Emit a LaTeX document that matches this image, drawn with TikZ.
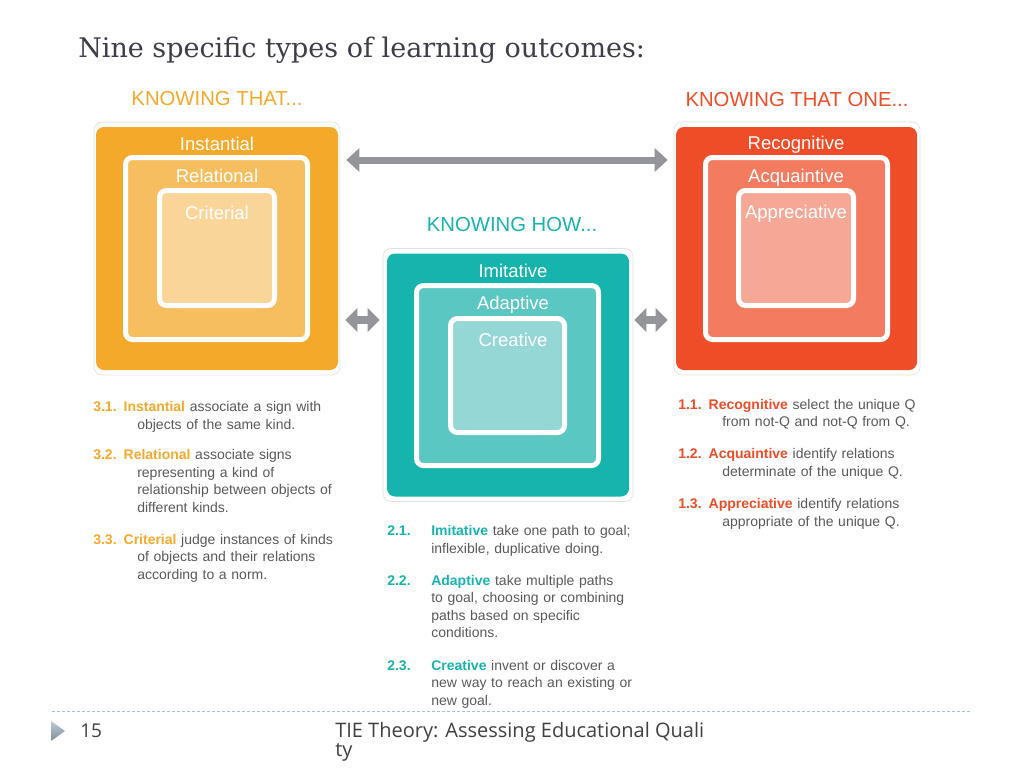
\documentclass[tikz,border=0pt]{standalone}
\usepackage{fontspec}
\setmainfont{Liberation Sans}
\newfontfamily\titlefont{DejaVu Serif}
\newfontfamily\footfont{Open Sans}
\usetikzlibrary{positioning,arrows.meta}

\definecolor{thatA}{HTML}{F4A92A}
\definecolor{thatB}{HTML}{F6BE5E}
\definecolor{thatC}{HTML}{FAD599}
\definecolor{howA}{HTML}{17B4AE}
\definecolor{howB}{HTML}{5BC7C3}
\definecolor{howC}{HTML}{94D7D4}
\definecolor{oneA}{HTML}{EE4D27}
\definecolor{oneB}{HTML}{F27B60}
\definecolor{oneC}{HTML}{F5A896}
\definecolor{arrowgray}{HTML}{939598}
\definecolor{bodygray}{HTML}{58595B}
\definecolor{titlegray}{HTML}{3E3E48}
\definecolor{footgray}{HTML}{404040}
\definecolor{footline}{HTML}{A9BED1}

\newcommand{\outcome}[4]{{\color{#1}\bfseries #2#3} #4}
\newcommand{\nl}{\newline\hspace*{44pt}}

\begin{document}
\begin{tikzpicture}[x=1pt,y=-1pt,inner sep=0pt,semithick]
    \tikzstyle{frame}=[draw=black!12,fill=white,rounded corners=8pt,minimum width=246pt,minimum height=253pt,line width=0.6pt]
    \tikzstyle{outer}=[rounded corners=8pt,minimum width=242pt,minimum height=243pt]
    \tikzstyle{ring}=[draw=white,line width=5pt,rounded corners=7pt,minimum size=182pt]
    \tikzstyle{core}=[ring,minimum size=115pt]
    \tikzstyle{boxname}=[text=white,font=\fontsize{18.5}{22}\selectfont,anchor=base]
    \tikzstyle{heading}=[font=\fontsize{20.3}{24}\selectfont,anchor=south]
    \tikzstyle{item}=[text width=260pt,anchor=base west,text=bodygray,font=\fontsize{14}{17.5}\selectfont]
    \tikzstyle{bigarrow}=[draw=arrowgray,line width=7pt,{Triangle[length=13pt,width=23pt]}-{Triangle[length=13pt,width=23pt]}]
    \tikzstyle{smallarrow}=[draw=arrowgray,line width=8pt,{Triangle[length=12pt,width=23pt]}-{Triangle[length=12pt,width=23pt]}]

    \useasboundingbox (0,0) rectangle (1024,768);

    \node[anchor=base west,text=titlegray,font=\titlefont\fontsize{27}{32}\selectfont] (title) at (78,57) {Nine specific types of learning outcomes:};

    % knowing that
    \node[frame]             (A0) at (217,248.5) {};
    \node[outer,fill=thatA]  (A1) at (217,248.5) {};
    \node[ring,fill=thatB]   (A2) at (216.5,248.5) {};
    \node[core,fill=thatC]   (A3) at (217,248) {};
    \node[heading,text=thatA,above=15.5pt of A0] (A) {KNOWING THAT...};
    \node[boxname] (A1t) at (217,150)   {Instantial};
    \node[boxname] (A2t) at (217,182.5) {Relational};
    \node[boxname] (A3t) at (217,219)   {Criterial};

    % knowing how
    \node[frame,minimum width=250pt] (B0) at (508,375) {};
    \node[outer,fill=howA]   (B1) at (508,375) {};
    \node[ring,fill=howB,minimum width=182pt,minimum height=180pt] (B2) at (507.5,375.5) {};
    \node[core,fill=howC,minimum size=114pt] (B3) at (507.5,375.5) {};
    \node[heading,text=howA,above=16pt of B0,xshift=4pt] (B) {KNOWING HOW...};
    \node[boxname] (B1t) at (513,277) {Imitative};
    \node[boxname] (B2t) at (513,309) {Adaptive};
    \node[boxname] (B3t) at (513,346) {Creative};

    % knowing that one
    \node[frame]             (C0) at (797,248.5) {};
    \node[outer,fill=oneA,minimum width=241pt] (C1) at (796.5,248.5) {};
    \node[ring,fill=oneB]    (C2) at (796.5,248.5) {};
    \node[core,fill=oneC]    (C3) at (796,248) {};
    \node[heading,text=oneA,above=15pt of C0] (C) {KNOWING THAT ONE...};
    \node[boxname] (C1t) at (796,149.5) {Recognitive};
    \node[boxname] (C2t) at (796,182)   {Acquaintive};
    \node[boxname] (C3t) at (796,218.5) {Appreciative};

    \coordinate (top) at (0,160);
    \coordinate (mid) at (0,320);
    \draw[bigarrow,shorten <=6pt,shorten >=6pt]   (A0.east |- top) -- (C0.west |- top);
    \draw[smallarrow,shorten <=5pt,shorten >=3pt] (A0.east |- mid) -- (B0.west |- mid);
    \draw[smallarrow,shorten <=1pt,shorten >=6pt] (B0.east |- mid) -- (C0.west |- mid);

    % outcomes
    \node[item] (A4) at (93,411.5) {\outcome{thatA}{3.1. }{Instantial}{associate a sign with\nl objects of the same kind.}};
    \node[item] (A5) at (93,459.5) {\outcome{thatA}{3.2. }{Relational}{associate signs\nl representing a kind of\nl relationship between objects of\nl different kinds.}};
    \node[item] (A6) at (93,544)   {\outcome{thatA}{3.3. }{Criterial}{judge instances of kinds\nl of objects and their relations\nl according to a norm.}};

    \node[item] (B4) at (387,535.5) {\outcome{howA}{\makebox[44pt][l]{2.1.}}{Imitative}{take one path to goal;\nl inflexible, duplicative doing.}};
    \node[item] (B5) at (387,585)   {\outcome{howA}{\makebox[44pt][l]{2.2.}}{Adaptive}{take multiple paths\nl to goal, choosing or combining\nl paths based on specific\nl conditions.}};
    \node[item] (B6) at (387,670)   {\outcome{howA}{\makebox[44pt][l]{2.3.}}{Creative}{invent or discover a\nl new way to reach an existing or\nl new goal.}};

    \node[item] (C4) at (678,409)   {\outcome{oneA}{1.1. }{Recognitive}{select the unique Q\nl from not-Q and not-Q from Q.}};
    \node[item] (C5) at (678,458.5) {\outcome{oneA}{1.2. }{Acquaintive}{identify relations\nl determinate of the unique Q.}};
    \node[item] (C6) at (678,508.5) {\outcome{oneA}{1.3. }{Appreciative}{identify relations\nl appropriate of the unique Q.}};

    % footer
    \draw[footline,line width=0.8pt,dash pattern=on 3pt off 2pt] (52,711) -- (972,711);
    \shade[top color=footline!80,bottom color=footline!60!black!80] (51,721) -- (65,731) -- (51,741) -- cycle;
    \node[anchor=base west,text=footgray,font=\footfont\fontsize{19}{23}\selectfont] (page) at (80,737) {15};
    \node[anchor=base west,align=left,text=footgray,font=\footfont\fontsize{20}{19.5}\selectfont] (foot) at (335,756.5) {TIE Theory: Assessing Educational Quali\\ty};
\end{tikzpicture}
\end{document}
